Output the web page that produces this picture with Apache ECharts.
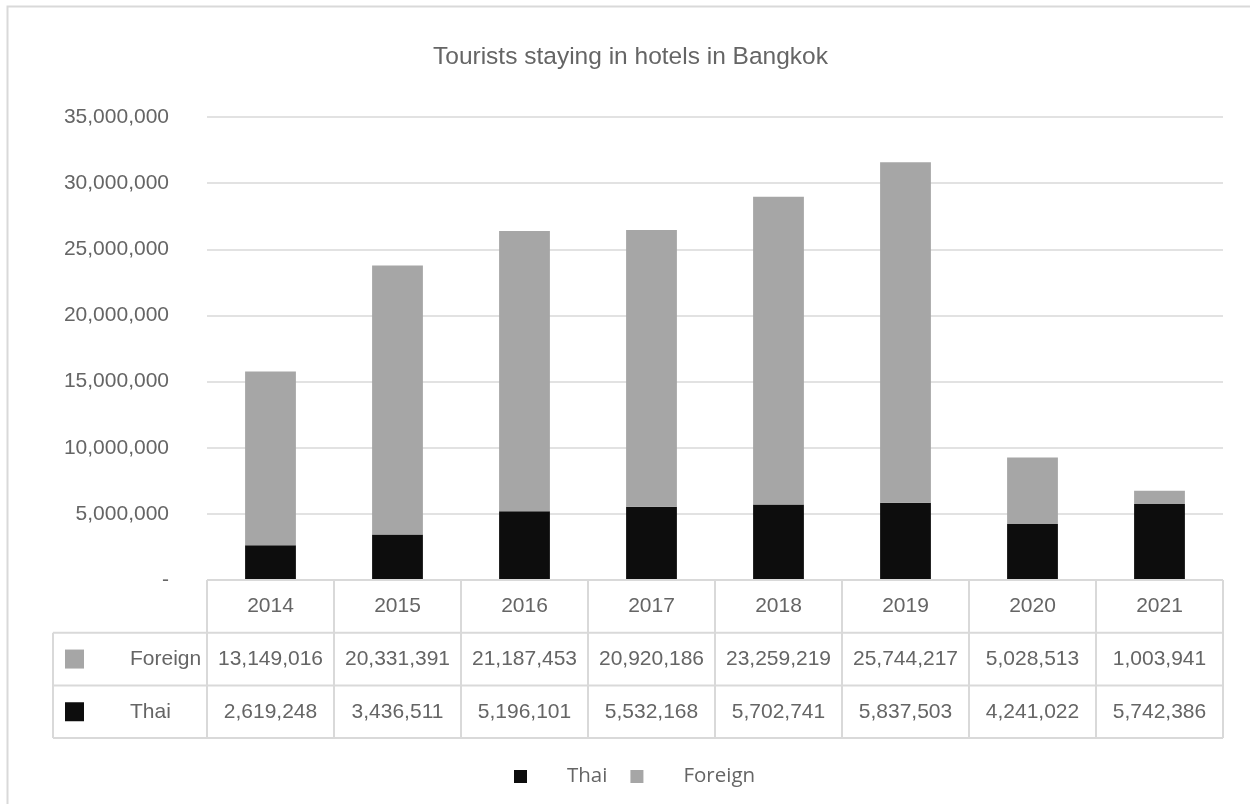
<!DOCTYPE html>
<html>
<head>
<meta charset="utf-8">
<script src="https://cdn.jsdelivr.net/npm/echarts@6/dist/echarts.min.js"></script>
<style>
  html, body { margin: 0; padding: 0; background: #ffffff; }
  #chart { width: 1250px; height: 804px; }
</style>
</head>
<body>
<div id="chart"></div>
<script>
// Hotel guests in Bangkok by nationality, per year
const years = ['2014', '2015', '2016', '2017', '2018', '2019', '2020', '2021'];
const foreign = [13149016, 20331391, 21187453, 20920186, 23259219, 25744217, 5028513, 1003941];
const thai = [2619248, 3436511, 5196101, 5532168, 5702741, 5837503, 4241022, 5742386];
const yTicks = { min: 0, max: 35000000, interval: 5000000 };

const TEXT = '#656565';
const LINE = '#d9d9d9';
const FONT = '"Liberation Sans", Arial, sans-serif';
const THAI_COLOR = '#0d0d0d';
const FOREIGN_COLOR = '#a6a6a6';

const fmt = v => v.toLocaleString('en-US');

const chart = echarts.init(document.getElementById('chart'));

chart.setOption({
  animation: false,
  backgroundColor: '#ffffff',
  title: {
    text: 'Tourists staying in hotels in Bangkok',
    left: 428,
    top: 40,
    textStyle: { color: TEXT, fontFamily: FONT, fontSize: 24.5, fontWeight: 'normal' }
  },
  legend: {
    bottom: 12,
    left: 509,
    itemWidth: 13,
    itemHeight: 13,
    itemGap: 23,
    icon: 'rect',
    data: ['Thai', 'Foreign'],
    textStyle: {
      color: TEXT, fontFamily: '"Open Sans", sans-serif', fontSize: 20.5,
      padding: [0, 0, 0, 35]
    }
  },
  grid: { left: 207, right: 27, top: 117, bottom: 224, containLabel: false },
  xAxis: {
    type: 'category',
    data: years,
    axisLine: { show: false },
    axisTick: { show: false },
    axisLabel: { show: false }
  },
  yAxis: {
    type: 'value',
    min: yTicks.min,
    max: yTicks.max,
    interval: yTicks.interval,
    axisLine: { show: false },
    axisTick: { show: false },
    splitLine: { lineStyle: { color: LINE, width: 1.5 } },
    axisLabel: {
      margin: 38,
      color: TEXT,
      fontFamily: FONT,
      fontSize: 21,
      formatter: v => (v === 0 ? '-' : fmt(v))
    }
  },
  series: [
    {
      name: 'Thai', type: 'bar', stack: 'total', data: thai,
      barCategoryGap: '60%',
      itemStyle: { color: THAI_COLOR }
    },
    {
      name: 'Foreign', type: 'bar', stack: 'total', data: foreign,
      barCategoryGap: '60%',
      itemStyle: { color: FOREIGN_COLOR }
    }
  ]
});

// Outer frame plus the data table under the plot, aligned to the category axis
function buildTable() {
  const centers = years.map((y, i) => chart.convertToPixel({ xAxisIndex: 0 }, i));
  const band = centers[1] - centers[0];
  const x0 = centers[0] - band / 2;
  const x1 = centers[centers.length - 1] + band / 2;
  const yTop = chart.convertToPixel({ yAxisIndex: 0 }, 0);
  const rowH = 52.7;
  const rows = [yTop, yTop + rowH, yTop + 2 * rowH, yTop + 3 * rowH];
  const keyLeft = 53;
  const ls = { stroke: LINE, lineWidth: 2 };
  const els = [];

  els.push({ type: 'rect', z: 0, silent: true,
    shape: { x: 7.5, y: 6.5, width: 1300, height: 900 },
    style: { fill: null, stroke: LINE, lineWidth: 2 } });

  // horizontal rules
  els.push({ type: 'line', shape: { x1: x0, y1: rows[0], x2: x1, y2: rows[0] }, style: ls, z: 5 });
  for (let r = 1; r < rows.length; r++) {
    els.push({ type: 'line', shape: { x1: keyLeft, y1: rows[r], x2: x1, y2: rows[r] }, style: ls, z: 5 });
  }
  // vertical rules
  els.push({ type: 'line', shape: { x1: keyLeft, y1: rows[1], x2: keyLeft, y2: rows[3] }, style: ls, z: 5 });
  for (let i = 0; i <= years.length; i++) {
    const x = x0 + i * band;
    els.push({ type: 'line', shape: { x1: x, y1: rows[0], x2: x, y2: rows[3] }, style: ls, z: 5 });
  }

  const txt = (text, x, y, align) => ({
    type: 'text', z: 6, x, y,
    style: { text, fill: TEXT, font: '21px ' + FONT, align: align || 'center', verticalAlign: 'middle' }
  });

  const tableRows = [
    { name: 'Foreign', color: FOREIGN_COLOR, values: foreign },
    { name: 'Thai', color: THAI_COLOR, values: thai }
  ];

  years.forEach((y, i) => els.push(txt(y, centers[i], (rows[0] + rows[1]) / 2)));
  tableRows.forEach((row, r) => {
    const cy = (rows[r + 1] + rows[r + 2]) / 2;
    els.push({ type: 'rect', z: 6, shape: { x: 65, y: cy - 9.5, width: 19, height: 19 }, style: { fill: row.color } });
    els.push(txt(row.name, 130, cy, 'left'));
    row.values.forEach((v, i) => els.push(txt(fmt(v), centers[i], cy)));
  });

  chart.setOption({ graphic: { elements: els } });
}
buildTable();
</script>
</body>
</html>
